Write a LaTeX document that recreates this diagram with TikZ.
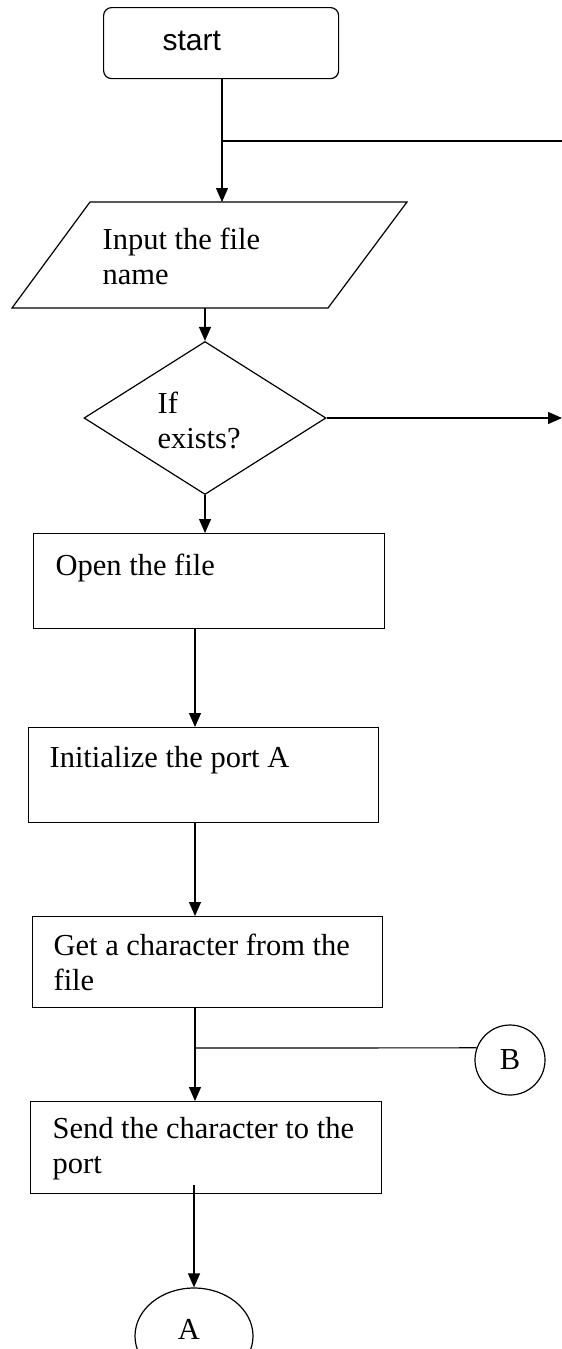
\documentclass[tikz,border=0pt]{standalone}
\usepackage{fontspec}
\setmainfont{Liberation Serif}
\newfontfamily\arialf{Liberation Sans}
\usetikzlibrary{arrows.meta,shapes.geometric}
\newcommand{\boxtxt}[1]{\parbox[t]{340pt}{\raggedright #1}}
\begin{document}
\begin{tikzpicture}[x=1pt,y=-1pt,
  line width=1.2pt,
  arr/.style={-{Triangle[length=14pt,width=12pt]}},
  procbox/.style={draw, rectangle, anchor=north west, inner sep=0pt},
  tx/.style={anchor=base west, inner sep=0pt, font=\fontsize{30.5}{35.5}\selectfont},
]
\useasboundingbox (0,0) rectangle (562,1349);
\clip (0,0) rectangle (562,1349);

% shapes
\node[draw, rounded corners=8pt, anchor=north west, inner sep=0pt,
      minimum width=235pt, minimum height=71pt] (start) at (103,7) {};
\node[tx, font=\arialf\fontsize{30}{35}\selectfont] (tstart) at (162,50) {start};

\coordinate (p1) at (12,308);
\coordinate (p2) at (328,308);
\coordinate (p3) at (407,202);
\coordinate (p4) at (90,202);
\draw (p1) -- (p2) -- (p3) -- (p4) -- cycle;
\node[tx] (tinput) at (102,249) {\boxtxt{Input the file\\name}};

\node[draw, diamond, inner sep=0pt, minimum width=242pt, minimum height=153pt] (dia) at (205,418) {};
\node[tx] (tif) at (157,413) {\boxtxt{If\\exists?}};

\node[procbox, minimum width=351pt, minimum height=95pt] (open) at (33,533) {};
\node[tx] (topen) at (55,575) {Open the file};

\node[procbox, minimum width=350pt, minimum height=95pt] (init) at (28,727) {};
\node[tx] (tinit) at (49,767) {Initialize the port A};

\node[procbox, minimum width=350pt, minimum height=91pt] (get) at (32,916) {};
\node[tx] (tget) at (53,955) {\boxtxt{Get a character from the\\file}};

\node[procbox, minimum width=351pt, minimum height=92pt] (send) at (30,1101) {};
\node[tx] (tsend) at (52,1138) {\boxtxt{Send the character to the\\port}};

\node[draw, circle, inner sep=0pt, minimum size=70pt,
      font=\fontsize{30.5}{35.5}\selectfont] (B) at (510,1060) {B};

\node[draw, ellipse, inner sep=0pt, minimum width=118pt, minimum height=96pt] (A) at (194,1336) {};
\node[tx, anchor=base] (tA) at (189,1339) {A};

% helper coordinates
\coordinate (c1) at (222,0);
\coordinate (pTop) at (222,202);
\coordinate (j1) at (222,141);
\coordinate (e1) at (562,141);
\coordinate (pBot) at (205,308);
\coordinate (e2) at (562,418);
\coordinate (c3) at (195,0);
\coordinate (jB) at (195,1048);
\coordinate (s4) at (194,1185);

% connectors
\draw[arr] (start.south -| c1) -- (pTop);
\draw (j1) -- (e1);
\draw[arr] (pBot) -- (dia.north);
\draw[arr] (dia.east) -- (e2);
\draw[arr] (dia.south) -- (dia.south |- open.north);
\draw[arr] (open.south -| c3) -- (init.north -| c3);
\draw[arr] (init.south -| c3) -- (get.north -| c3);
\draw[arr] (get.south -| c3) -- (send.north -| c3);
\draw (jB) -- (B.160);
\draw[arr] (s4) -- (A.north);
\end{tikzpicture}
\end{document}
